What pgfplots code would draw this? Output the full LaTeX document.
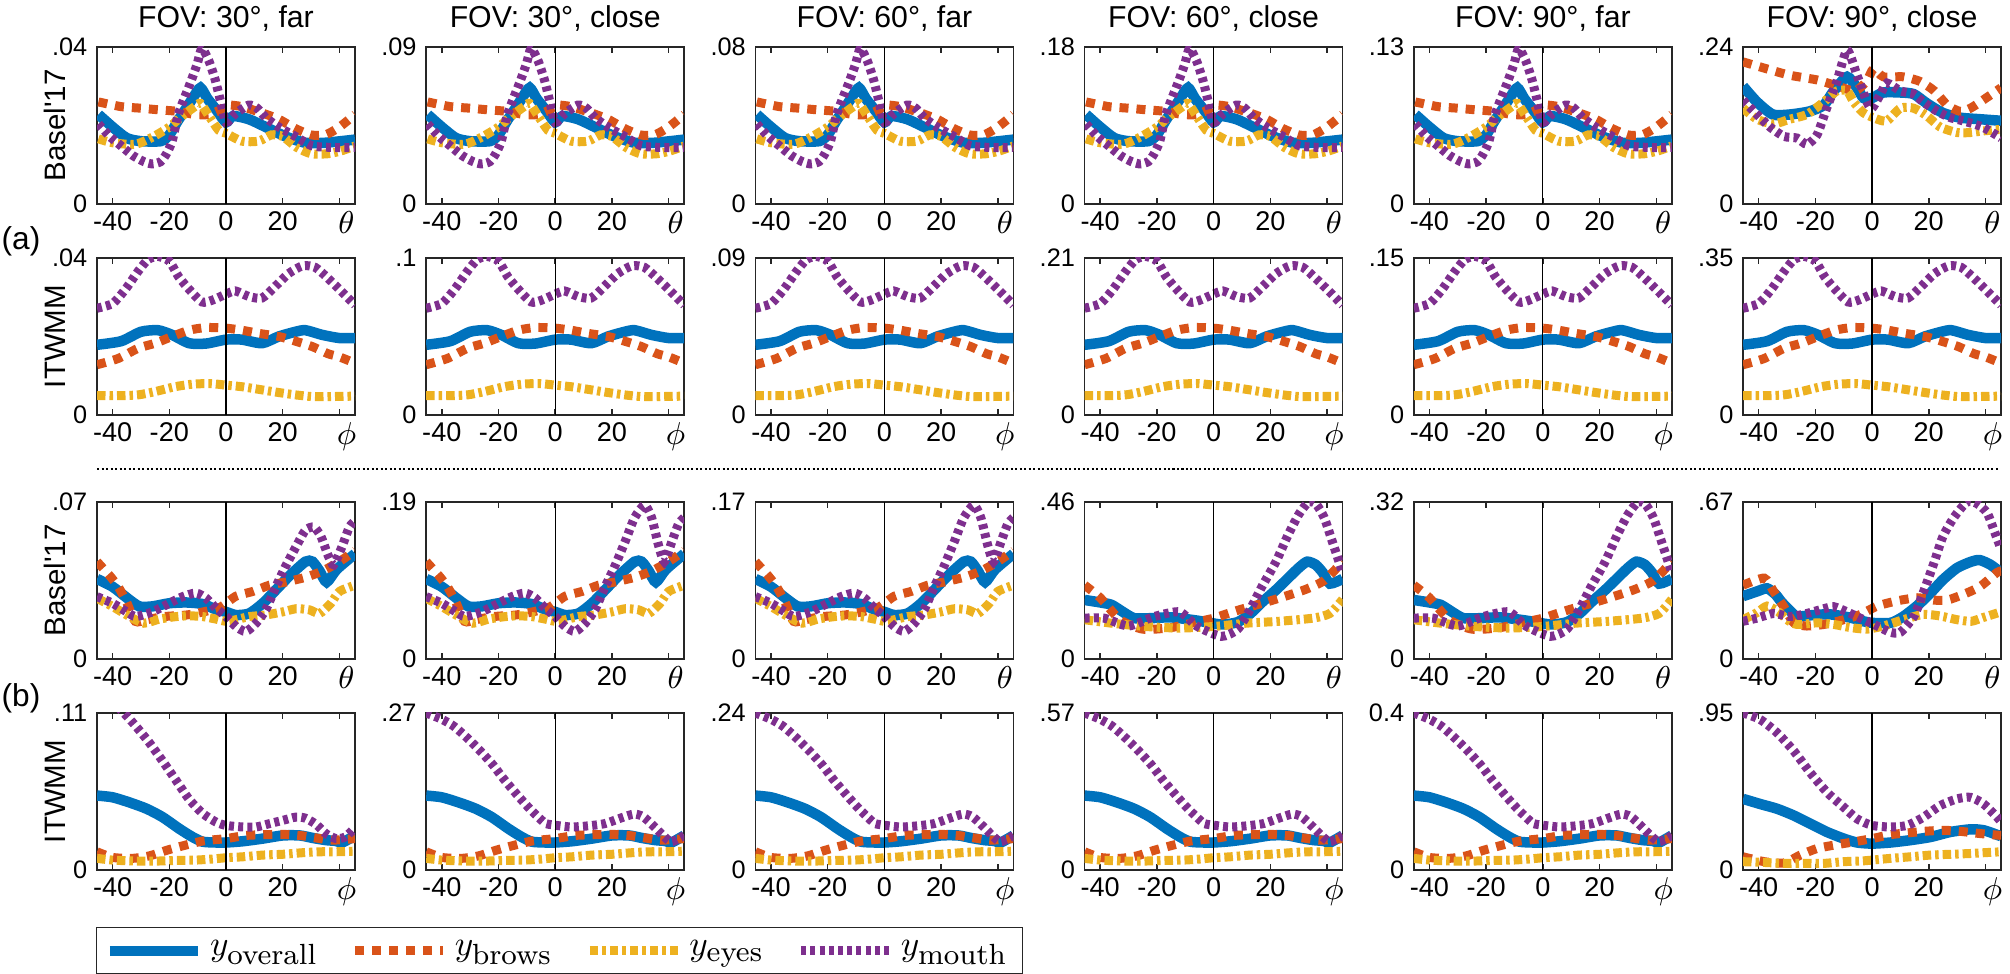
\documentclass[border=0pt]{standalone}
\usepackage[no-math]{fontspec}
\setmainfont{Liberation Sans}[Ligatures=TeXOff]
\newfontfamily\lmr{Latin Modern Roman}
\usepackage{pgfplots}
\usepackage{pgfplotstable}
\pgfplotsset{compat=1.18}

\definecolor{cO}{rgb}{0,0.447,0.741}
\definecolor{cB}{rgb}{0.85,0.325,0.098}
\definecolor{cE}{rgb}{0.929,0.694,0.125}
\definecolor{cM}{rgb}{0.494,0.184,0.556}

% values as fraction of each panel's y-axis maximum
% Row 1 (Basel'17, theta), columns 1-5
\pgfplotstableread[row sep=\\]{x y\\-45 0.57\\-40 0.49\\-35 0.42\\-30 0.40\\-23 0.40\\-20 0.44\\-17 0.53\\-14 0.61\\-11.5 0.68\\-9 0.74\\-6.5 0.67\\-3 0.59\\0 0.52\\2.5 0.56\\8 0.54\\14 0.49\\21 0.43\\28 0.39\\35 0.39\\45.5 0.41\\}\Ao
\pgfplotstableread[row sep=\\]{x y\\-45 0.65\\-37 0.62\\-30 0.61\\-24 0.60\\-17 0.59\\-11 0.57\\-6 0.57\\-2 0.60\\0.5 0.63\\5.6 0.62\\12.7 0.58\\18.6 0.54\\24.5 0.48\\30 0.44\\35 0.44\\40 0.49\\45.5 0.57\\}\Ab
\pgfplotstableread[row sep=\\]{x y\\-45 0.415\\-40 0.39\\-32 0.38\\-26 0.425\\-20 0.49\\-15.5 0.56\\-11 0.62\\-9 0.64\\-6 0.56\\-2.6 0.47\\0 0.45\\5.6 0.40\\11.5 0.40\\16 0.44\\20 0.43\\25 0.36\\30 0.32\\36 0.32\\41 0.34\\45.5 0.37\\}\Ae
\pgfplotstableread[row sep=\\]{x y\\-45 0.51\\-41 0.43\\-37 0.37\\-33 0.31\\-29 0.27\\-26 0.255\\-23 0.27\\-21 0.32\\-19 0.40\\-17 0.56\\-15 0.66\\-12.6 0.77\\-10.2 0.89\\-8.5 0.99\\-6 0.91\\-3.8 0.79\\-2 0.66\\0 0.52\\3.3 0.575\\8 0.63\\11 0.61\\14 0.55\\18.6 0.49\\24.5 0.43\\30.4 0.37\\38 0.36\\45.5 0.36\\}\Am
% Row 1, column 6
\pgfplotstableread[row sep=\\]{x y\\-45.5 0.75\\-40.6 0.65\\-35 0.57\\-29 0.57\\-22 0.59\\-17 0.63\\-13.5 0.72\\-8.8 0.81\\-5.3 0.74\\-3 0.675\\0 0.675\\4 0.71\\10 0.71\\14.7 0.70\\19.4 0.64\\25 0.58\\31 0.55\\38 0.54\\45.5 0.53\\}\Fo
\pgfplotstableread[row sep=\\]{x y\\-45.5 0.905\\-37 0.86\\-29 0.82\\-19.4 0.79\\-12 0.75\\-6 0.72\\-2 0.78\\0.5 0.86\\4 0.81\\11 0.81\\17 0.78\\22 0.72\\26.5 0.63\\31 0.59\\34.7 0.61\\39 0.66\\45.5 0.74\\}\Fb
\pgfplotstableread[row sep=\\]{x y\\-45.5 0.61\\-40.6 0.54\\-34.7 0.51\\-29 0.54\\-23 0.57\\-17 0.65\\-12.4 0.72\\-8.8 0.72\\-6.5 0.65\\-3 0.58\\1.8 0.54\\5.3 0.53\\10 0.61\\14.7 0.61\\19.4 0.56\\24 0.49\\30 0.455\\34.7 0.455\\39 0.465\\45.5 0.475\\}\Fe
\pgfplotstableread[row sep=\\]{x y\\-45.5 0.66\\-40.6 0.57\\-36 0.49\\-31 0.43\\-26.5 0.42\\-23 0.38\\-19.4 0.44\\-16 0.61\\-12.4 0.78\\-8.8 0.98\\-5.3 0.82\\-1.8 0.65\\0 0.61\\3 0.70\\5.3 0.77\\10 0.72\\14.7 0.70\\18 0.65\\23 0.59\\27.6 0.55\\32 0.53\\39 0.49\\45.5 0.42\\}\Fm
% Row 2 (ITWMM, phi)
\pgfplotstableread[row sep=\\]{x y\\-45.5 0.447\\-37 0.47\\-30 0.53\\-24 0.54\\-19 0.51\\-13 0.457\\-7 0.455\\0 0.48\\5.6 0.48\\12.7 0.457\\18.6 0.50\\24.5 0.53\\28 0.54\\34 0.51\\40 0.49\\45.5 0.49\\}\Bo
\pgfplotstableread[row sep=\\]{x y\\-45.5 0.32\\-38 0.36\\-31 0.425\\-25 0.457\\-19 0.50\\-13 0.54\\-7 0.557\\0 0.553\\5.6 0.54\\11.5 0.52\\18.6 0.50\\24.5 0.47\\30.4 0.436\\36 0.39\\40 0.37\\45.5 0.33\\}\Bb
\pgfplotstableread[row sep=\\]{x y\\-45.5 0.123\\-38 0.123\\-31 0.128\\-25 0.149\\-18 0.18\\-12 0.196\\-5.5 0.20\\0 0.19\\5.6 0.18\\12.7 0.16\\18.6 0.143\\24.5 0.128\\30.4 0.117\\36 0.117\\45.5 0.12\\}\Be
\pgfplotstableread[row sep=\\]{x y\\-45.5 0.68\\-40 0.71\\-35.5 0.80\\-31 0.915\\-27.5 0.99\\-24 1.01\\-20 0.98\\-16.7 0.88\\-13 0.80\\-8.5 0.72\\-5 0.73\\0 0.77\\3.3 0.79\\8 0.755\\12.7 0.745\\17.4 0.82\\22 0.90\\27 0.95\\31.5 0.94\\36 0.87\\40 0.80\\45.5 0.70\\}\Bm
% Row 3 (Basel'17, theta), columns 1-3
\pgfplotstableread[row sep=\\]{x y\\-45.5 0.51\\-40 0.46\\-35 0.39\\-30.6 0.335\\-26 0.335\\-20 0.355\\-14 0.36\\-8.2 0.35\\-3.5 0.315\\0 0.30\\3.5 0.28\\8.2 0.29\\13 0.355\\17.6 0.44\\22.4 0.53\\28 0.62\\30.5 0.62\\33 0.56\\35.5 0.49\\39 0.57\\45.5 0.67\\}\Co
\pgfplotstableread[row sep=\\]{x y\\-45.5 0.62\\-41 0.53\\-38 0.46\\-35 0.36\\-32 0.24\\-28 0.25\\-22 0.27\\-14 0.28\\-8 0.30\\-2 0.33\\3.5 0.40\\9.4 0.43\\15.3 0.47\\21 0.49\\28 0.52\\34 0.56\\40 0.62\\45.5 0.69\\}\Cb
\pgfplotstableread[row sep=\\]{x y\\-45.5 0.387\\-40 0.334\\-34 0.27\\-29 0.228\\-23.5 0.254\\-17.6 0.27\\-13 0.275\\-8.2 0.27\\-3.5 0.254\\0 0.24\\3.5 0.25\\8.2 0.27\\14 0.28\\20 0.30\\24.7 0.32\\29.4 0.313\\33 0.29\\37 0.355\\40 0.43\\45.5 0.47\\}\Ce
\pgfplotstableread[row sep=\\]{x y\\-45.5 0.397\\-40 0.355\\-35 0.30\\-31.8 0.27\\-26 0.30\\-20 0.355\\-15.3 0.397\\-10.6 0.42\\-7 0.387\\-3.5 0.323\\0 0.27\\3.5 0.207\\7 0.175\\10.6 0.228\\14 0.313\\17.6 0.46\\21 0.59\\24.7 0.715\\28 0.82\\31 0.84\\33.5 0.78\\36 0.66\\38 0.60\\41 0.72\\43.5 0.84\\45.5 0.88\\}\Cm
\pgfplotstableread[row sep=\\]{x y\\-45.5 0.397\\-40 0.355\\-35 0.30\\-31.8 0.27\\-26 0.30\\-20 0.355\\-15.3 0.397\\-10.6 0.42\\-7 0.387\\-3.5 0.323\\0 0.27\\3.5 0.207\\7 0.175\\10.6 0.228\\14 0.313\\17.6 0.46\\21 0.59\\24.7 0.75\\28 0.90\\31.5 0.98\\34 0.90\\36.5 0.72\\38.5 0.62\\41 0.74\\43.5 0.86\\45.5 0.90\\}\Cmm
% Row 3, columns 4-5
\pgfplotstableread[row sep=\\]{x y\\-45.5 0.376\\-40 0.36\\-36 0.345\\-32 0.30\\-28 0.26\\-22 0.26\\-15 0.265\\-6 0.245\\2.7 0.22\\8.5 0.235\\13 0.29\\17 0.36\\22 0.44\\26 0.51\\30 0.58\\33 0.62\\36 0.60\\38.5 0.55\\41 0.48\\45.5 0.51\\}\Do
\pgfplotstableread[row sep=\\]{x y\\-45.5 0.47\\-40 0.39\\-33 0.25\\-25 0.19\\-15 0.20\\-5 0.24\\0 0.26\\8.5 0.31\\20 0.37\\32 0.44\\39 0.50\\45.5 0.62\\}\Db
\pgfplotstableread[row sep=\\]{x y\\-45.5 0.25\\-36 0.228\\-24 0.207\\-12 0.197\\0 0.207\\11.5 0.228\\23 0.24\\35 0.26\\41 0.29\\45.5 0.38\\}\De
\pgfplotstableread[row sep=\\]{x y\\-45.5 0.26\\-38.6 0.26\\-30 0.21\\-21 0.27\\-12 0.30\\-6 0.21\\2.7 0.144\\8.5 0.19\\13 0.32\\17 0.46\\22 0.62\\26 0.78\\30 0.92\\33.5 1.0\\36 0.99\\39 0.90\\42 0.74\\45.5 0.55\\}\Dm
% Row 3, column 6
\pgfplotstableread[row sep=\\]{x y\\-45.5 0.40\\-40.6 0.43\\-37 0.45\\-34 0.41\\-31.8 0.36\\-28 0.29\\-26.5 0.27\\-20.6 0.28\\-14.7 0.284\\-7.6 0.263\\-3 0.24\\0 0.23\\6.5 0.23\\11 0.27\\16 0.34\\20.6 0.42\\25 0.505\\30 0.58\\35 0.62\\38 0.63\\41.8 0.60\\45.5 0.55\\}\Eo
\pgfplotstableread[row sep=\\]{x y\\-45.5 0.47\\-38 0.515\\-34.7 0.43\\-31 0.33\\-27.6 0.23\\-23 0.21\\-17 0.22\\-10 0.25\\-4 0.284\\1.8 0.337\\8.8 0.37\\16 0.39\\21.8 0.375\\26.5 0.375\\32 0.41\\38 0.46\\44 0.55\\45.5 0.56\\}\Eb
\pgfplotstableread[row sep=\\]{x y\\-45.5 0.25\\-40.6 0.295\\-37 0.337\\-33 0.30\\-30 0.25\\-26.5 0.22\\-19.4 0.23\\-13.5 0.22\\-7.6 0.20\\-1.8 0.19\\4 0.21\\11 0.25\\18 0.284\\24 0.274\\30 0.25\\35 0.24\\39 0.263\\45.5 0.30\\}\Ee
\pgfplotstableread[row sep=\\]{x y\\-45.5 0.24\\-40.6 0.26\\-34.7 0.29\\-28.8 0.27\\-23 0.29\\-17 0.32\\-13.5 0.333\\-8.8 0.30\\-3 0.25\\1.8 0.21\\6.5 0.17\\10 0.17\\14.7 0.27\\18 0.42\\21.8 0.61\\25 0.78\\29 0.905\\33.5 1.0\\37 0.99\\40.6 0.93\\43 0.82\\45.5 0.70\\}\Em
% Row 4 (ITWMM, phi), columns 1-5
\pgfplotstableread[row sep=\\]{x y\\-45.5 0.474\\-40 0.463\\-34 0.43\\-28 0.39\\-22.4 0.337\\-16.5 0.263\\-11.8 0.21\\-8.2 0.18\\-3.5 0.175\\0 0.175\\5.9 0.183\\13 0.20\\20 0.22\\26 0.22\\30.6 0.204\\35.3 0.19\\38.8 0.185\\41 0.175\\45.5 0.22\\}\Go
\pgfplotstableread[row sep=\\]{x y\\-45.5 0.116\\-40 0.08\\-33 0.074\\-27 0.09\\-21 0.125\\-15 0.155\\-8 0.185\\0 0.20\\7 0.22\\14 0.225\\20 0.227\\26 0.22\\31.8 0.204\\37.6 0.19\\45.5 0.20\\}\Gb
\pgfplotstableread[row sep=\\]{x y\\-45.5 0.074\\-40 0.063\\-32 0.057\\-24 0.057\\-17.6 0.061\\-10.6 0.063\\-4.7 0.07\\0 0.078\\5.9 0.084\\13 0.095\\20 0.10\\27 0.11\\33 0.116\\38.8 0.116\\45.5 0.12\\}\Ge
\pgfplotstableread[row sep=\\]{x y\\-45.5 1.15\\-40 1.07\\-36 1.0\\-31.8 0.916\\-27 0.81\\-22.4 0.695\\-17.6 0.57\\-13 0.45\\-8.2 0.36\\-3.5 0.305\\0 0.284\\5.9 0.274\\10.6 0.274\\15.3 0.295\\20 0.316\\24.7 0.337\\28 0.33\\31.8 0.29\\35.3 0.23\\38.8 0.20\\42 0.21\\45.5 0.27\\}\Gm
\pgfplotstableread[row sep=\\]{x y\\-45.5 1.0\\-40 0.96\\-35.7 0.915\\-31 0.84\\-26.8 0.765\\-22 0.67\\-18 0.576\\-13 0.47\\-9 0.39\\-5 0.32\\-3.2 0.295\\0 0.285\\5.6 0.274\\11 0.28\\17.4 0.295\\23 0.33\\27.7 0.356\\31 0.34\\35 0.274\\38 0.22\\41 0.18\\45.5 0.22\\}\Gmm
% Row 4, column 6
\pgfplotstableread[row sep=\\]{x y\\-45.5 0.453\\-39.4 0.42\\-33.5 0.39\\-27.6 0.347\\-21.8 0.295\\-15.9 0.242\\-10 0.20\\-5.3 0.175\\0 0.168\\6.5 0.175\\13.5 0.19\\20.6 0.21\\27.6 0.242\\34.7 0.259\\39.4 0.253\\44.7 0.22\\45.5 0.215\\}\Ho
\pgfplotstableread[row sep=\\]{x y\\-45.5 0.084\\-38 0.053\\-31 0.045\\-25.3 0.095\\-19.4 0.137\\-13.5 0.158\\-6.5 0.179\\0 0.20\\6.5 0.225\\12.4 0.236\\18.2 0.246\\25.3 0.253\\31.2 0.246\\38.2 0.232\\45.5 0.22\\}\Hb
\pgfplotstableread[row sep=\\]{x y\\-45.5 0.053\\-38 0.048\\-31 0.042\\-24 0.042\\-17 0.042\\-10 0.053\\-4 0.057\\0 0.063\\6.5 0.074\\13.5 0.084\\20.6 0.095\\27.6 0.10\\34.7 0.105\\39.4 0.11\\45.5 0.116\\}\He
\pgfplotstableread[row sep=\\]{x y\\-45.5 1.0\\-39.4 0.958\\-33.5 0.874\\-27.6 0.758\\-21.8 0.62\\-15.9 0.495\\-10 0.40\\-5.3 0.326\\0 0.284\\6.5 0.274\\12.4 0.284\\18.2 0.337\\24 0.41\\30 0.453\\34.7 0.463\\39.4 0.42\\45.5 0.31\\}\Hm

\pgfplotsset{
  ov/.style={color=cO, line width=1.05mm, smooth, tension=0.4},
  br/.style={color=cB, line width=0.9mm, smooth, tension=0.4, dash pattern=on 0.9mm off 0.8mm},
  ey/.style={color=cE, line width=0.9mm, smooth, tension=0.4, dash pattern=on 0.85mm off 0.4mm on 0.35mm off 0.4mm},
  mo/.style={color=cM, line width=0.9mm, smooth, tension=0.4, dash pattern=on 0.5mm off 0.42mm},
  panel/.style={
    width=25.8mm, height=15.7mm, scale only axis,
    xmin=-45.5, xmax=45.5, ymin=0, ymax=1,
    xtick={-40,-20,0,20,40}, ytick={0,1},
    tick align=inside, major tick length=0.6mm,
    every tick/.style={black!85, line width=0.15mm},
    axis line style={black!85, line width=0.17mm},
    x tick label style={font=\fontsize{7.7}{8}\selectfont, inner sep=0.7mm},
    y tick label style={font=\fontsize{7.2}{8}\selectfont, inner sep=0.5mm, xshift=-0.4mm},
    every axis y label/.style={at={(axis description cs:-0.163,0.5)}, rotate=90, anchor=center, font=\fontsize{8.4}{9}\selectfont},
    every axis title/.style={at={(axis description cs:0.5,1)}, anchor=base, yshift=1.9mm, font=\fontsize{8.6}{9}\selectfont},
    legend columns=4,
    legend cell align=left,
    legend image code/.code={\draw[##1] (0mm,0mm) -- (8.8mm,0mm);},
    legend style={at={(-0.004,-0.363)}, anchor=north west, draw=black!85, line width=0.15mm,
      font=\fontsize{9.6}{11}\selectfont, inner xsep=0.8mm, inner ysep=0.6mm,
      /tikz/every even column/.append style={column sep=2.6mm}},
  }
}

\newcommand{\panel}[9]{%
\begin{axis}[panel, at={(#1,#2)}, anchor=north west,
  yticklabels={0,#3},
  xticklabels={-40,-20,0,20,{\hspace*{1.4mm}\fontsize{8.8}{9}\selectfont$#4$}}, #9]
\addplot[ov] table {#5};
\addplot[br] table {#6};
\addplot[ey] table {#7};
\addplot[mo] table {#8};
\addplot[black, line width=0.12mm, forget plot] coordinates {(0,0) (0,1)};
\end{axis}}

\newcommand{\sub}[1]{\mbox{\lmr\fontsize{8.3}{9}\selectfont #1}}

\begin{document}
\begin{tikzpicture}
\useasboundingbox (0,0) rectangle (201mm,97.4mm);
% Row 1
\panel{9.7mm}{92.7mm}{.04}{\theta}{\Ao}{\Ab}{\Ae}{\Am}{title={FOV: 30°, far}, ylabel={Basel'17}}
\panel{42.62mm}{92.7mm}{.09}{\theta}{\Ao}{\Ab}{\Ae}{\Am}{title={FOV: 30°, close}}
\panel{75.54mm}{92.7mm}{.08}{\theta}{\Ao}{\Ab}{\Ae}{\Am}{title={FOV: 60°, far}}
\panel{108.46mm}{92.7mm}{.18}{\theta}{\Ao}{\Ab}{\Ae}{\Am}{title={FOV: 60°, close}}
\panel{141.38mm}{92.7mm}{.13}{\theta}{\Ao}{\Ab}{\Ae}{\Am}{title={FOV: 90°, far}}
\panel{174.3mm}{92.7mm}{.24}{\theta}{\Fo}{\Fb}{\Fe}{\Fm}{title={FOV: 90°, close}}
% Row 2
\panel{9.7mm}{71.6mm}{.04}{\phi}{\Bo}{\Bb}{\Be}{\Bm}{ylabel={ITWMM}}
\panel{42.62mm}{71.6mm}{.1}{\phi}{\Bo}{\Bb}{\Be}{\Bm}{}
\panel{75.54mm}{71.6mm}{.09}{\phi}{\Bo}{\Bb}{\Be}{\Bm}{}
\panel{108.46mm}{71.6mm}{.21}{\phi}{\Bo}{\Bb}{\Be}{\Bm}{}
\panel{141.38mm}{71.6mm}{.15}{\phi}{\Bo}{\Bb}{\Be}{\Bm}{}
\panel{174.3mm}{71.6mm}{.35}{\phi}{\Bo}{\Bb}{\Be}{\Bm}{}
% Row 3
\panel{9.7mm}{47.2mm}{.07}{\theta}{\Co}{\Cb}{\Ce}{\Cm}{ylabel={Basel'17}}
\panel{42.62mm}{47.2mm}{.19}{\theta}{\Co}{\Cb}{\Ce}{\Cmm}{}
\panel{75.54mm}{47.2mm}{.17}{\theta}{\Co}{\Cb}{\Ce}{\Cmm}{}
\panel{108.46mm}{47.2mm}{.46}{\theta}{\Do}{\Db}{\De}{\Dm}{}
\panel{141.38mm}{47.2mm}{.32}{\theta}{\Do}{\Db}{\De}{\Dm}{}
\panel{174.3mm}{47.2mm}{.67}{\theta}{\Eo}{\Eb}{\Ee}{\Em}{}
% Row 4
\panel{9.7mm}{26.1mm}{.11}{\phi}{\Go}{\Gb}{\Ge}{\Gm}{ylabel={ITWMM},
  legend entries={$y_{\sub{overall}}$,$y_{\sub{brows}}$,$y_{\sub{eyes}}$,$y_{\sub{mouth}}$}}
\panel{42.62mm}{26.1mm}{.27}{\phi}{\Go}{\Gb}{\Ge}{\Gmm}{}
\panel{75.54mm}{26.1mm}{.24}{\phi}{\Go}{\Gb}{\Ge}{\Gmm}{}
\panel{108.46mm}{26.1mm}{.57}{\phi}{\Go}{\Gb}{\Ge}{\Gmm}{}
\panel{141.38mm}{26.1mm}{0.4}{\phi}{\Go}{\Gb}{\Ge}{\Gmm}{}
\panel{174.3mm}{26.1mm}{.95}{\phi}{\Ho}{\Hb}{\He}{\Hm}{}
% group labels and separator
\node[font=\fontsize{9}{10}\selectfont] at (2.1mm,73.3mm) {(a)};
\node[font=\fontsize{9}{10}\selectfont] at (2.1mm,27.6mm) {(b)};
\draw[line width=0.2mm, dash pattern=on 0.2mm off 0.25mm] (9.7mm,50.5mm) -- (200mm,50.5mm);
\end{tikzpicture}
\end{document}
